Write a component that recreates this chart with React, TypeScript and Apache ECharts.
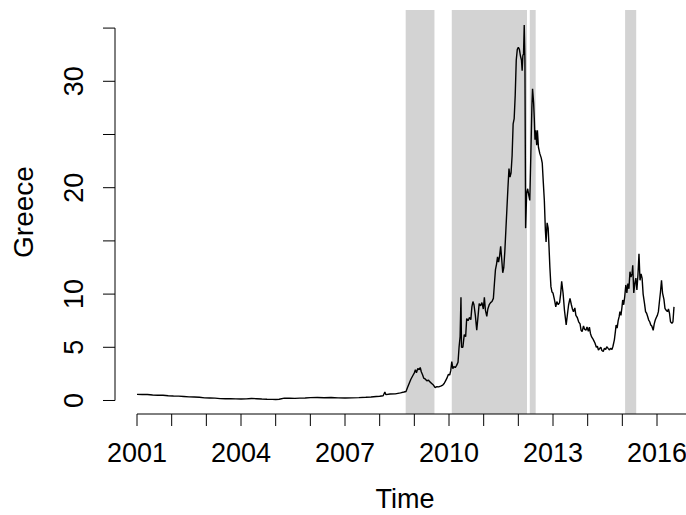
import React, { useEffect, useRef } from "react";
import * as echarts from "echarts";

// ---- data ----
const years: number[] = [
  2001.0, 2001.15, 2001.3, 2001.45, 2001.6, 2001.75, 2001.9, 2002.05, 2002.2, 2002.35,
  2002.5, 2002.65, 2002.8, 2002.95, 2003.1, 2003.25, 2003.4, 2003.55, 2003.7, 2003.85,
  2004.0, 2004.15, 2004.3, 2004.45, 2004.6, 2004.75, 2004.9, 2005.0, 2005.1, 2005.25,
  2005.4, 2005.55, 2005.7, 2005.85, 2006.0, 2006.2, 2006.4, 2006.6, 2006.8, 2007.0,
  2007.2, 2007.4, 2007.6, 2007.75, 2007.9, 2008.0, 2008.1, 2008.15, 2008.18, 2008.3,
  2008.45, 2008.6, 2008.7, 2008.76, 2008.8, 2008.85, 2008.9, 2008.95, 2009.0, 2009.03,
  2009.06, 2009.1, 2009.14, 2009.17, 2009.2, 2009.24, 2009.27, 2009.32, 2009.36, 2009.41,
  2009.45, 2009.5, 2009.55, 2009.6, 2009.65, 2009.7, 2009.76, 2009.82, 2009.86, 2009.9,
  2009.94, 2009.98, 2010.02, 2010.05, 2010.08, 2010.11, 2010.14, 2010.18, 2010.22, 2010.26,
  2010.29, 2010.32, 2010.345, 2010.36, 2010.4, 2010.44, 2010.48, 2010.51, 2010.55, 2010.59,
  2010.63, 2010.66, 2010.69, 2010.72, 2010.76, 2010.8, 2010.84, 2010.87, 2010.91, 2010.95,
  2010.99, 2011.02, 2011.05, 2011.09, 2011.12, 2011.16, 2011.2, 2011.24, 2011.28, 2011.31,
  2011.34, 2011.37, 2011.4, 2011.43, 2011.46, 2011.49, 2011.52, 2011.55, 2011.58, 2011.61,
  2011.64, 2011.67, 2011.7, 2011.73, 2011.76, 2011.79, 2011.82, 2011.85, 2011.88, 2011.91,
  2011.94, 2011.97, 2012.0, 2012.03, 2012.06, 2012.09, 2012.11, 2012.13, 2012.15, 2012.17,
  2012.19, 2012.21, 2012.24, 2012.27, 2012.3, 2012.33, 2012.36, 2012.39, 2012.41, 2012.44,
  2012.46, 2012.48, 2012.5, 2012.53, 2012.55, 2012.58, 2012.62, 2012.66, 2012.69, 2012.72,
  2012.75, 2012.78, 2012.8, 2012.83, 2012.86, 2012.88, 2012.91, 2012.94, 2012.97, 2013.0,
  2013.04, 2013.08, 2013.11, 2013.15, 2013.19, 2013.22, 2013.25, 2013.29, 2013.33, 2013.38,
  2013.42, 2013.45, 2013.49, 2013.53, 2013.56, 2013.59, 2013.63, 2013.66, 2013.7, 2013.74,
  2013.78, 2013.81, 2013.84, 2013.88, 2013.91, 2013.95, 2013.98, 2014.02, 2014.05, 2014.08,
  2014.11, 2014.15, 2014.18, 2014.21, 2014.25, 2014.28, 2014.31, 2014.35, 2014.38, 2014.41,
  2014.45, 2014.48, 2014.52, 2014.55, 2014.59, 2014.63, 2014.66, 2014.7, 2014.73, 2014.77,
  2014.8, 2014.82, 2014.85, 2014.88, 2014.91, 2014.93, 2014.96, 2014.99, 2015.01, 2015.04,
  2015.07, 2015.1, 2015.13, 2015.16, 2015.19, 2015.22, 2015.25, 2015.28, 2015.3, 2015.33,
  2015.36, 2015.39, 2015.42, 2015.45, 2015.48, 2015.51, 2015.54, 2015.57, 2015.6, 2015.64,
  2015.67, 2015.7, 2015.73, 2015.76, 2015.79, 2015.82, 2015.85, 2015.89, 2015.92, 2015.95,
  2015.98, 2016.01, 2016.04, 2016.07, 2016.1, 2016.13, 2016.16, 2016.2, 2016.23, 2016.26,
  2016.3, 2016.33, 2016.36, 2016.39, 2016.43, 2016.46, 2016.49,
];

const greece: number[] = [
  0.58, 0.56, 0.57, 0.52, 0.5, 0.49, 0.45, 0.42, 0.41, 0.38,
  0.34, 0.33, 0.3, 0.25, 0.24, 0.22, 0.18, 0.17, 0.16, 0.15,
  0.14, 0.15, 0.19, 0.17, 0.14, 0.12, 0.11, 0.09, 0.12, 0.22,
  0.21, 0.2, 0.22, 0.24, 0.27, 0.28, 0.26, 0.28, 0.25, 0.24,
  0.25, 0.27, 0.3, 0.33, 0.38, 0.4, 0.45, 0.8, 0.55, 0.61,
  0.62, 0.72, 0.8, 0.85, 1.2, 1.6, 2.0, 2.3, 2.6, 2.9,
  2.6, 3.0, 2.9, 3.1, 2.7, 2.4, 2.1, 2.0, 1.86, 1.9,
  1.75, 1.6, 1.45, 1.22, 1.3, 1.28, 1.35, 1.45, 1.6, 1.85,
  2.1, 2.45, 2.4, 2.8, 3.65, 3.0, 3.2, 3.1, 3.3, 3.6,
  5.0, 6.0, 9.7, 5.0, 5.0, 6.2, 6.0, 7.7, 7.5, 7.8,
  7.6, 8.8, 9.3, 9.0, 8.0, 6.6, 8.0, 9.1, 8.9, 9.2,
  8.6, 9.7, 8.5, 7.9, 8.6, 9.0, 9.2, 9.3, 9.6, 11.0,
  12.3, 12.8, 13.5, 13.0, 13.6, 14.5, 13.3, 12.0, 12.5, 14.0,
  16.0, 18.0, 20.0, 21.8, 21.0, 21.4, 23.0, 26.0, 26.5, 28.7,
  32.0, 33.0, 33.2, 33.0, 32.4, 32.0, 31.0, 32.4, 32.6, 35.3,
  32.0, 16.2, 19.5, 19.9, 19.3, 18.8, 23.0, 27.5, 29.3, 28.0,
  26.5, 24.5, 25.4, 24.0, 25.4, 23.8, 23.2, 22.8, 22.3, 20.5,
  18.8, 16.0, 14.9, 16.7, 16.2, 14.8, 12.5, 10.7, 10.2, 10.1,
  9.5, 8.8, 9.3, 9.0, 9.2, 10.0, 11.2, 10.1, 8.5, 7.1,
  8.2, 9.0, 9.6, 9.0, 8.6, 8.35, 8.7, 8.0, 7.8, 7.4,
  7.2, 6.6, 6.47, 7.0, 6.7, 6.6, 6.9, 6.5, 6.9, 6.3,
  6.0, 5.8, 5.6, 5.4, 5.0, 5.1, 4.75, 4.9, 5.0, 4.7,
  4.6, 4.9, 4.8, 5.06, 4.9, 4.75, 4.9, 4.8, 5.1, 5.7,
  6.5, 7.1, 6.8, 7.5, 7.9, 8.35, 8.0, 8.8, 9.45, 9.0,
  9.8, 10.86, 10.1, 11.0, 10.5, 12.1, 11.6, 11.9, 12.7, 10.1,
  11.0, 11.5, 10.4, 11.8, 13.8, 11.3, 11.9, 11.5, 10.0, 9.1,
  8.35, 8.2, 7.9, 7.56, 7.4, 7.1, 7.0, 6.6, 7.2, 7.56,
  7.8, 8.0, 8.35, 9.3, 10.2, 11.3, 10.1, 9.5, 8.66, 8.5,
  8.35, 8.6, 8.2, 7.4, 7.25, 7.4, 8.8,
];

// shaded periods
const shadeStart: number[] = [2008.75, 2010.08, 2012.33, 2015.08];
const shadeEnd: number[] = [2009.58, 2012.25, 2012.5, 2015.4];

// ticks and labels
const xTicks: number[] = [2001, 2002, 2003, 2004, 2005, 2006, 2007, 2008, 2009, 2010, 2011, 2012, 2013, 2014, 2015, 2016, 2017];
const xLabels: number[] = [2001, 2004, 2007, 2010, 2013, 2016];
const yTicks: number[] = [0, 5, 10, 15, 20, 25, 30, 35];
const yLabels: number[] = [0, 5, 10, 20, 30];

const X_MIN = 2000.365;
const X_MAX = 2017.096;
const Y_MIN = -1.269;
const Y_MAX = 36.7;

const TICK_LEN = 12;
const FONT = "'Liberation Sans', Arial, Helvetica, sans-serif";

export default function App() {
  const ref = useRef<HTMLDivElement>(null);

  useEffect(() => {
    if (!ref.current) return;
    const chart = echarts.init(ref.current, null, { renderer: "svg" });
    const seriesData = years.map((y, i) => [y, greece[i]]);

    // R-style axes drawn through the chart's own scales
    const xAxisSeries = {
      type: "custom",
      silent: true,
      clip: false,
      z: 5,
      data: [[xTicks[0], xTicks[xTicks.length - 1]]],
      encode: { x: [0, 1] },
      renderItem: (_p: any, api: any) => {
        const a = api.coord([api.value(0), Y_MIN]);
        const b = api.coord([api.value(1), Y_MIN]);
        const children: any[] = [
          {
            type: "line",
            shape: { x1: a[0], y1: a[1], x2: b[0], y2: b[1] },
            style: { stroke: "#000", lineWidth: 1 },
          },
        ];
        xTicks.forEach((t) => {
          const p = api.coord([t, Y_MIN]);
          children.push({
            type: "line",
            shape: { x1: p[0], y1: p[1], x2: p[0], y2: p[1] + TICK_LEN },
            style: { stroke: "#000", lineWidth: 1 },
          });
        });
        return { type: "group", children };
      },
    };

    const yAxisSeries = {
      type: "custom",
      silent: true,
      clip: false,
      z: 5,
      data: [[yTicks[0], yTicks[yTicks.length - 1]]],
      encode: { y: [0, 1] },
      renderItem: (_p: any, api: any) => {
        const a = api.coord([X_MIN, api.value(0)]);
        const b = api.coord([X_MIN, api.value(1)]);
        const children: any[] = [
          {
            type: "line",
            shape: { x1: a[0], y1: a[1], x2: b[0], y2: b[1] },
            style: { stroke: "#000", lineWidth: 1 },
          },
        ];
        yTicks.forEach((t) => {
          const p = api.coord([X_MIN, t]);
          children.push({
            type: "line",
            shape: { x1: p[0] - TICK_LEN, y1: p[1], x2: p[0], y2: p[1] },
            style: { stroke: "#000", lineWidth: 1 },
          });
        });
        return { type: "group", children };
      },
    };

    const option: any = {
      animation: false,
      backgroundColor: "#ffffff",
      grid: {
        left: 115,
        top: 10,
        width: 580,
        height: 404,
        containLabel: false,
        outerBoundsMode: "none",
      },
      xAxis: {
        type: "value",
        min: X_MIN,
        max: X_MAX,
        axisLine: { show: false, onZero: false },
        splitLine: { show: false },
        axisTick: { show: false },
        axisLabel: {
          customValues: xLabels,
          margin: 25,
          fontSize: 27,
          color: "#000",
          fontFamily: FONT,
          formatter: (v: number) => String(v),
        },
        name: "Time",
        nameLocation: "middle",
        nameGap: 75,
        nameTextStyle: { fontSize: 27, lineHeight: 20, color: "#000", fontFamily: FONT },
      },
      yAxis: {
        type: "value",
        min: Y_MIN,
        max: Y_MAX,
        axisLine: { show: false, onZero: false },
        splitLine: { show: false },
        axisTick: { show: false },
        axisLabel: {
          customValues: yLabels,
          rotate: 90,
          margin: 28,
          fontSize: 27,
          color: "#000",
          fontFamily: FONT,
          formatter: (v: number) => String(v),
        },
        name: "Greece",
        nameLocation: "middle",
        nameRotate: 90,
        nameGap: 78,
        nameTextStyle: { fontSize: 28, color: "#000", fontFamily: FONT },
      },
      series: [
        {
          type: "line",
          data: seriesData,
          showSymbol: false,
          symbol: "none",
          clip: false,
          z: 3,
          lineStyle: { color: "#000", width: 1.4 },
          markArea: {
            silent: true,
            z: 1,
            itemStyle: { color: "#d3d3d3", borderWidth: 0 },
            data: shadeStart.map((s, i) => [
              { coord: [s, Y_MIN] },
              { coord: [shadeEnd[i], Y_MAX] },
            ]),
          },
        },
        xAxisSeries,
        yAxisSeries,
      ],
    };
    chart.setOption(option);
    return () => chart.dispose();
  }, []);

  return (
    <div
      ref={ref}
      style={{ position: "fixed", left: 0, top: 0, width: 686, height: 515, background: "#fff" }}
    />
  );
}
